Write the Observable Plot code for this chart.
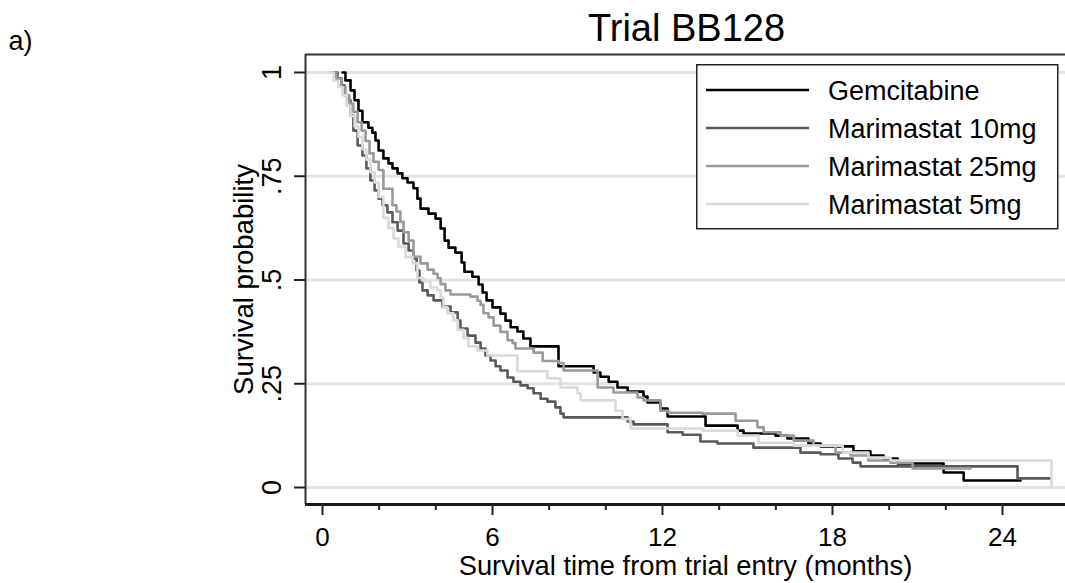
<!DOCTYPE html>
<html>
<head>
<meta charset="utf-8">
<script src="https://cdn.jsdelivr.net/npm/d3@7"></script>
<script src="https://cdn.jsdelivr.net/npm/@observablehq/plot@0.6"></script>
<style>
  html, body { margin: 0; padding: 0; background: #fff; }
  #wrap { position: relative; width: 1065px; height: 583px; overflow: hidden; font-family: 'Liberation Sans', Arial, sans-serif; }
  #legend { position: absolute; left: 696px; top: 64px; }
</style>
</head>
<body>
<div id="wrap"></div>
<script>
// ---- Data ----
const arms = ["Gemcitabine", "Marimastat 10mg", "Marimastat 25mg", "Marimastat 5mg"];
const armColors = ["#000000", "#5a5a5a", "#9a9a9a", "#dadada"];

const gemT = [0.71,0.81,0.99,1.13,1.27,1.41,1.62,1.76,1.87,1.98,2.15,2.33,2.47,2.65,2.82,3.00,3.21,3.35,3.46,3.74,3.99,4.17,4.31,4.45,4.69,4.91,5.01,5.29,5.51,5.65,5.79,6.00,6.28,6.46,6.64,6.88,7.09,7.34,8.33,9.57,9.81,10.10,10.41,10.77,11.33,11.47,11.93,12.18,13.52,14.65,14.86,15.99,16.41,17.15,17.58,18.74,19.34,19.80,20.30,21.92,22.63,24.64];
const gemS = [1.0,0.981,0.957,0.933,0.908,0.880,0.867,0.855,0.836,0.812,0.793,0.781,0.769,0.757,0.745,0.735,0.721,0.696,0.672,0.660,0.648,0.624,0.595,0.578,0.566,0.542,0.520,0.508,0.489,0.470,0.451,0.434,0.419,0.402,0.386,0.376,0.359,0.340,0.292,0.277,0.267,0.255,0.241,0.231,0.219,0.205,0.190,0.171,0.149,0.137,0.130,0.125,0.118,0.106,0.099,0.087,0.077,0.070,0.058,0.036,0.017,0.017];

const m10T = [0.39,0.53,0.67,0.78,0.88,0.99,1.09,1.24,1.41,1.55,1.69,1.84,1.98,2.12,2.29,2.47,2.65,2.86,3.04,3.21,3.32,3.42,3.53,3.71,3.92,4.24,4.52,4.77,4.87,5.12,5.40,5.58,5.75,5.93,6.11,6.28,6.53,6.74,6.99,7.24,7.45,7.70,7.94,8.22,8.40,8.51,10.77,10.98,12.18,12.71,13.34,13.94,15.21,16.87,17.58,18.21,18.71,18.99,24.53,25.70];
const m10S = [1.0,0.986,0.969,0.945,0.933,0.896,0.860,0.824,0.800,0.769,0.740,0.716,0.696,0.680,0.663,0.639,0.619,0.588,0.571,0.552,0.523,0.494,0.475,0.463,0.451,0.436,0.422,0.402,0.383,0.366,0.349,0.335,0.318,0.306,0.292,0.282,0.265,0.255,0.246,0.239,0.227,0.214,0.207,0.193,0.178,0.169,0.159,0.152,0.133,0.127,0.111,0.106,0.096,0.084,0.080,0.070,0.060,0.051,0.022,0.022];

const m25T = [0.28,0.49,0.67,0.81,0.95,1.09,1.24,1.38,1.52,1.66,1.80,1.98,2.15,2.47,2.61,2.75,2.86,3.04,3.21,3.46,3.71,3.92,4.06,4.17,4.34,4.52,5.22,5.47,5.58,5.68,5.86,6.04,6.28,6.53,6.71,6.81,7.45,7.77,8.33,8.51,9.71,10.27,11.12,11.33,11.93,12.21,13.41,14.58,15.35,15.57,16.17,16.63,17.33,18.11,18.64,19.27,20.05,20.83,22.87];
const m25S = [1.0,0.985,0.965,0.945,0.925,0.905,0.88,0.86,0.835,0.805,0.785,0.765,0.72,0.68,0.665,0.64,0.615,0.595,0.556,0.540,0.525,0.515,0.505,0.49,0.475,0.465,0.460,0.450,0.44,0.42,0.41,0.39,0.375,0.355,0.348,0.335,0.325,0.305,0.30,0.282,0.241,0.229,0.217,0.210,0.185,0.180,0.178,0.161,0.145,0.133,0.125,0.113,0.101,0.084,0.077,0.065,0.060,0.046,0.046];

const m5T = [0.21,0.39,0.56,0.71,0.85,0.99,1.13,1.27,1.41,1.55,1.69,1.84,1.98,2.15,2.33,2.51,2.68,2.93,3.18,3.35,3.57,3.81,4.06,4.17,4.27,4.41,4.62,4.77,4.98,5.15,5.47,5.82,6.88,7.94,8.40,9.00,9.11,10.34,10.59,10.87,13.41,14.65,15.39,16.63,18.36,19.27,20.05,25.73];
const m5S = [1.0,0.98,0.965,0.945,0.92,0.895,0.87,0.845,0.815,0.79,0.76,0.735,0.70,0.65,0.625,0.60,0.58,0.555,0.54,0.505,0.497,0.482,0.475,0.458,0.434,0.420,0.403,0.380,0.36,0.34,0.33,0.318,0.28,0.263,0.241,0.227,0.210,0.185,0.165,0.142,0.137,0.125,0.108,0.101,0.084,0.072,0.065,0];

const xMajorTicks = [0, 6, 12, 18, 24];
const xMinorTicks = [2, 4, 8, 10, 14, 16, 20, 22];
const yTicks = [0, 0.25, 0.5, 0.75, 1];
const yTickLabels = ["0", ".25", ".5", ".75", "1"];
const xDomain = [-0.6, 26.224];
const yDomain = [-0.04096, 1.04337];

const titleText = "Trial BB128";
const panelLabel = "a)";
const xLabel = "Survival time from trial entry (months)";
const yLabel = "Survival probability";

// ---- Build table ----
const seriesT = [gemT, m10T, m25T, m5T];
const seriesS = [gemS, m10S, m25S, m5S];
const rows = [];
arms.forEach((arm, i) => seriesT[i].forEach((t, j) => rows.push({arm, t, s: seriesS[i][j]})));

const FONT = "'Liberation Sans', Arial, sans-serif";

const chart = Plot.plot({
  width: 1065,
  height: 583,
  marginLeft: 305,
  marginRight: 0,
  marginTop: 54,
  marginBottom: 79,
  x: {domain: xDomain, axis: null},
  y: {domain: yDomain, axis: null},
  color: {domain: arms, range: armColors},
  style: {fontFamily: FONT, background: "#fff", color: "#000"},
  marks: [
    Plot.ruleY(yTicks, {stroke: "#e3e3e3", strokeWidth: 3}),
    Plot.line(rows, {x: "t", y: "s", z: "arm", stroke: "arm", curve: "step-after", strokeWidth: 2.6}),
    Plot.ruleY([yDomain[1]], {stroke: "#333", strokeWidth: 2}),
    Plot.ruleX([xDomain[0]], {stroke: "#333", strokeWidth: 2}),
    Plot.ruleY([yDomain[0]], {stroke: "#1a1a1a", strokeWidth: 3}),
    Plot.axisX({ticks: xMajorTicks, tickSize: 11, tickFormat: () => "", label: null, stroke: "#222", strokeWidth: 2}),
    Plot.axisX({ticks: xMinorTicks, tickSize: 6, tickFormat: () => "", label: null, stroke: "#222", strokeWidth: 2}),
    Plot.axisY({ticks: yTicks, tickSize: 11, tickFormat: () => "", label: null, stroke: "#222", strokeWidth: 2}),
    Plot.text(xMajorTicks, {x: d => d, text: d => String(d), frameAnchor: "bottom", dy: 41, lineAnchor: "bottom", textAnchor: "middle", fontSize: 26}),
    Plot.text(yTicks, {y: d => d, text: (d, i) => yTickLabels[i], frameAnchor: "left", dx: -25, rotate: -90, lineAnchor: "bottom", textAnchor: "middle", fontSize: 27}),
    Plot.text([yLabel], {frameAnchor: "left", dx: -53, rotate: -90, lineAnchor: "bottom", textAnchor: "middle", fontSize: 27.5}),
    Plot.text([xLabel], {frameAnchor: "bottom", dy: 70, lineAnchor: "bottom", textAnchor: "middle", fontSize: 27.3}),
    Plot.text([titleText], {frameAnchor: "top", dx: 1, dy: -14, lineAnchor: "bottom", textAnchor: "middle", fontSize: 38}),
    Plot.text([panelLabel], {frameAnchor: "top-left", dx: -297, dy: -5, lineAnchor: "bottom", textAnchor: "start", fontSize: 27})
  ]
});

const wrap = document.getElementById("wrap");
wrap.appendChild(chart);

// ---- Legend (SVG overlay) ----
const ns = "http://www.w3.org/2000/svg";
const leg = document.createElementNS(ns, "svg");
leg.setAttribute("id", "legend");
leg.setAttribute("width", 363);
leg.setAttribute("height", 166);
const box = document.createElementNS(ns, "rect");
box.setAttribute("x", 0.75); box.setAttribute("y", 0.75);
box.setAttribute("width", 361); box.setAttribute("height", 164);
box.setAttribute("fill", "#fff"); box.setAttribute("stroke", "#222"); box.setAttribute("stroke-width", 1.5);
leg.appendChild(box);
arms.forEach((arm, i) => {
  const cy = 26 + i * 38;
  const ln = document.createElementNS(ns, "line");
  ln.setAttribute("x1", 10); ln.setAttribute("x2", 113);
  ln.setAttribute("y1", cy); ln.setAttribute("y2", cy);
  ln.setAttribute("stroke", armColors[i]); ln.setAttribute("stroke-width", 2.6);
  leg.appendChild(ln);
  const tx = document.createElementNS(ns, "text");
  tx.setAttribute("x", 132); tx.setAttribute("y", cy + 10);
  tx.setAttribute("font-size", 27); tx.setAttribute("font-family", FONT);
  tx.setAttribute("fill", "#000");
  tx.textContent = arm;
  leg.appendChild(tx);
});
wrap.appendChild(leg);
</script>
</body>
</html>
